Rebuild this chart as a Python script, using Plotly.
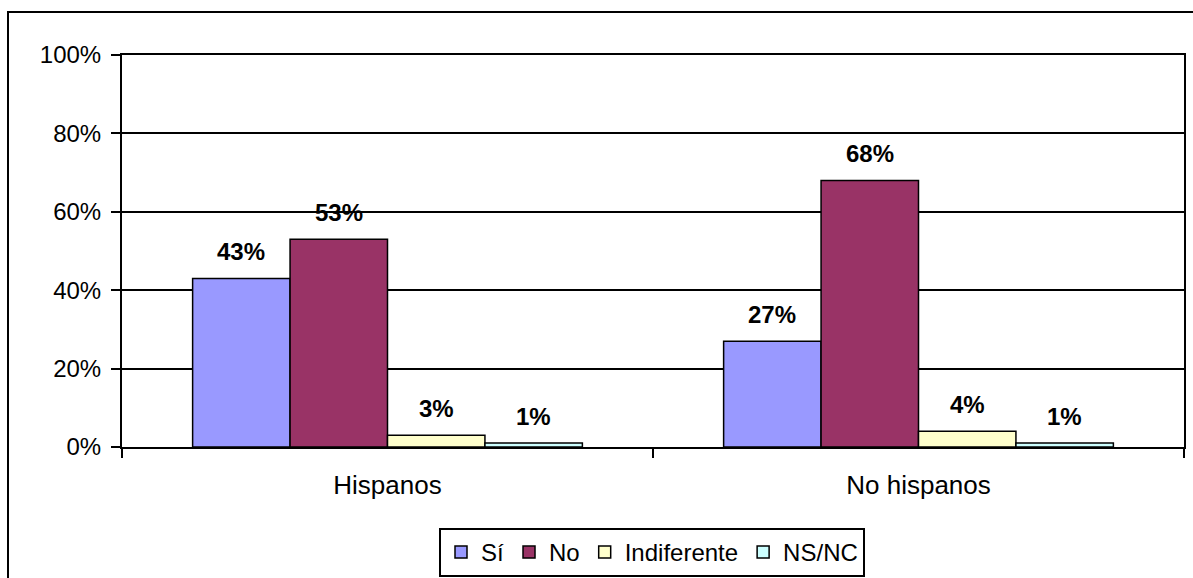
import plotly.graph_objects as go

categories = ["Hispanos", "No hispanos"]
series_names = ["Sí", "No", "Indiferente", "NS/NC"]
si_values = [0.43, 0.27]
no_values = [0.53, 0.68]
indif_values = [0.03, 0.04]
nsnc_values = [0.01, 0.01]
colors = ["#9999FF", "#993366", "#FFFFCC", "#CCFFFF"]
y_ticks = [0, 0.2, 0.4, 0.6, 0.8, 1.0]
y_tick_labels = ["0%", "20%", "40%", "60%", "80%", "100%"]

series_values = [si_values, no_values, indif_values, nsnc_values]
FONT = "Liberation Sans, Arial, sans-serif"

fig = go.Figure()
for name, vals, col in zip(series_names, series_values, colors):
    fig.add_trace(go.Bar(
        name=name, x=categories, y=vals,
        marker=dict(color=col, line=dict(color="black", width=1.5)),
    ))

bargap = 0.266
n = len(series_names)
w = (1 - bargap) / n
annotations = []
for si, vals in enumerate(series_values):
    off = -(1 - bargap) / 2 + w * (si + 0.5)
    for ci, v in enumerate(vals):
        annotations.append(dict(
            x=ci + off, y=v, xref="x", yref="y",
            text=f"<b>{round(v*100)}%</b>", showarrow=False,
            yanchor="bottom", yshift=11,
            font=dict(family=FONT, size=24, color="black"),
        ))

# plot area geometry in px
L, R, T, B = 122, 9, 55, 131
W, H = 1193, 578
pw, ph = W - L - R, H - T - B

fig.update_layout(
    width=W, height=H,
    margin=dict(l=L, r=R, t=T, b=B),
    paper_bgcolor="white", plot_bgcolor="white",
    barmode="group", bargap=bargap, bargroupgap=0,
    font=dict(family=FONT, size=24, color="black"),
    showlegend=True,
    legend=dict(
        orientation="h", xref="container", yref="container",
        x=652 / W, xanchor="center",
        y=1 - 528 / H, yanchor="top",
        bordercolor="black", borderwidth=2,
        font=dict(family=FONT, size=24, color="black"),
        itemclick=False, traceorder="normal",
        tracegroupgap=0, itemwidth=30,
    ),
    annotations=annotations,
    shapes=[dict(
        type="rect", xref="paper", yref="paper",
        x0=(8 - L) / pw, x1=(W + 20 - L) / pw,
        y0=-(H + 20 - T - ph) / ph, y1=(T + ph - 12) / ph,
        line=dict(color="black", width=2), fillcolor="rgba(0,0,0,0)",
        layer="below",
    )],
)
fig.update_yaxes(
    range=[0, 1], tickvals=y_ticks, ticktext=y_tick_labels,
    showgrid=True, gridcolor="black", gridwidth=1.5,
    showline=True, linecolor="black", linewidth=2, mirror=True,
    ticks="outside", ticklen=9, tickwidth=2, tickcolor="black",
    ticklabelstandoff=5,
    zeroline=False, fixedrange=True, automargin=False,
    tickfont=dict(family=FONT, size=24, color="black"),
)
fig.update_xaxes(
    showline=True, linecolor="black", linewidth=2, mirror=True,
    ticks="outside", tickson="boundaries", ticklen=9, tickwidth=2, tickcolor="black",
    ticklabelstandoff=14,
    showgrid=False, fixedrange=True, automargin=False,
    tickfont=dict(family=FONT, size=26, color="black"),
)

fig.write_html(
    "out.html",
    config={"displayModeBar": False},
    post_script="document.body.style.margin='0';document.body.style.overflow='hidden';",
)
